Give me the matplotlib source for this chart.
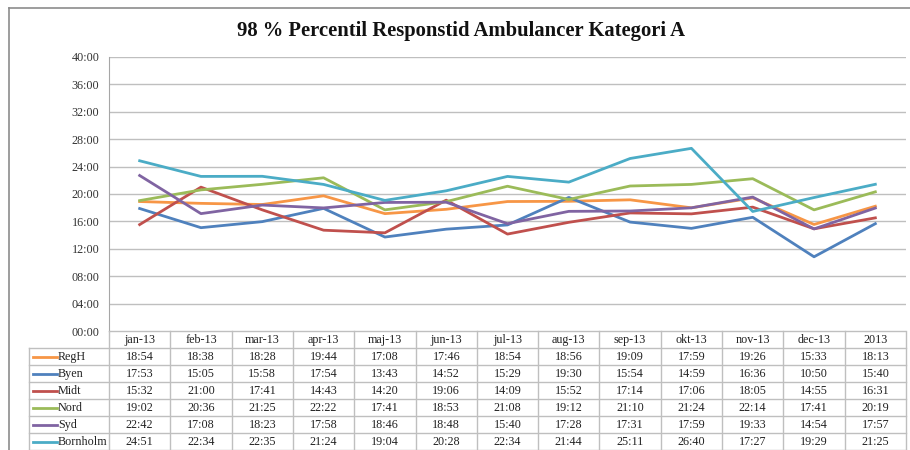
import matplotlib
matplotlib.use("Agg")
import matplotlib.pyplot as plt
from matplotlib.lines import Line2D
from matplotlib.ticker import FuncFormatter, MultipleLocator

plt.rcParams['font.family'] = ['Liberation Serif', 'DejaVu Serif']

months = ["jan-13", "feb-13", "mar-13", "apr-13", "maj-13", "jun-13", "jul-13",
          "aug-13", "sep-13", "okt-13", "nov-13", "dec-13", "2013"]

regh = ["18:54", "18:38", "18:28", "19:44", "17:08", "17:46", "18:54", "18:56", "19:09", "17:59", "19:26", "15:33", "18:13"]
byen = ["17:53", "15:05", "15:58", "17:54", "13:43", "14:52", "15:29", "19:30", "15:54", "14:59", "16:36", "10:50", "15:40"]
midt = ["15:32", "21:00", "17:41", "14:43", "14:20", "19:06", "14:09", "15:52", "17:14", "17:06", "18:05", "14:55", "16:31"]
nord = ["19:02", "20:36", "21:25", "22:22", "17:41", "18:53", "21:08", "19:12", "21:10", "21:24", "22:14", "17:41", "20:19"]
syd = ["22:42", "17:08", "18:23", "17:58", "18:46", "18:48", "15:40", "17:28", "17:31", "17:59", "19:33", "14:54", "17:57"]
bornholm = ["24:51", "22:34", "22:35", "21:24", "19:04", "20:28", "22:34", "21:44", "25:11", "26:40", "17:27", "19:29", "21:25"]

series_names = ["RegH", "Byen", "Midt", "Nord", "Syd", "Bornholm"]
series_values = [regh, byen, midt, nord, syd, bornholm]
colors = ["#F79646", "#4F81BD", "#C0504D", "#9BBB59", "#8064A2", "#4BACC6"]

title = "98 % Percentil Responstid Ambulancer Kategori A"


def to_minutes(s):
    m, sec = s.split(":")
    return int(m) + int(sec) / 60.0


W, H = 910, 450
fig = plt.figure(figsize=(W / 100, H / 100), dpi=100)
fig.patch.set_facecolor("white")

# outer frame lines
fig.add_artist(Line2D([9 / W, 1.0], [1 - 8 / H, 1 - 8 / H], color="#8C8C8C", lw=1.2))
fig.add_artist(Line2D([9 / W, 9 / W], [0, 1 - 8 / H], color="#8C8C8C", lw=1.2))

px_l, px_r, px_t, px_b = 109, 906, 57, 331
ax = fig.add_axes([px_l / W, 1 - px_b / H, (px_r - px_l) / W, (px_b - px_t) / H])
n = len(months)
x = list(range(n))
for name, vals, c in zip(series_names, series_values, colors):
    ax.plot(x, [to_minutes(v) for v in vals], color=c, lw=2.0, label=name, zorder=3)

ax.set_xlim(-0.5, n - 0.5)
ax.set_ylim(0, 40)
ax.yaxis.set_major_locator(MultipleLocator(4))
ax.yaxis.set_major_formatter(FuncFormatter(lambda v, p: "%02d:00" % int(round(v))))
ax.grid(axis="y", color="#BFBFBF", lw=1.0)
ax.set_axisbelow(True)
ax.set_xticks([])
ax.tick_params(axis="y", length=0, pad=7, labelsize=8.7, colors="#333333")
for s in ["top", "right", "bottom"]:
    ax.spines[s].set_visible(False)
ax.spines["left"].set_color("#A6A6A6")

fig.text(461 / W, 1 - 31 / H, title, ha="center", va="center",
         fontsize=14.9, fontweight="bold", color="#111111")

# data table
col_w = (px_r - px_l) / n
lab_l = 29
lab_w = (px_l - lab_l) / col_w
tab_t = 331
tax = fig.add_axes([lab_l / W, 0, (px_r - lab_l) / W, (H - tab_t) / H])
tax.set_xlim(-0.5 - lab_w, n - 0.5)
nrows = len(series_names) + 1
tax.set_ylim(nrows, 0)
tax.axis("off")
lc = "#BFBFBF"
for i in range(n + 1):
    tax.plot([i - 0.5, i - 0.5], [0, nrows], color=lc, lw=1.0, clip_on=False)
tax.plot([-0.5 - lab_w, -0.5 - lab_w], [1, nrows], color=lc, lw=1.0, clip_on=False)
for r in range(1, nrows + 1):
    tax.plot([-0.5 - lab_w, n - 0.5], [r, r], color=lc, lw=1.0, clip_on=False)
tax.plot([-0.5, n - 0.5], [0, 0], color=lc, lw=1.0)

for i, m in enumerate(months):
    tax.text(i, 0.55, m, ha="center", va="center", fontsize=8.7, color="#222222")
for r, (name, vals, c) in enumerate(zip(series_names, series_values, colors), start=1):
    tax.plot([-0.5 - lab_w + 0.06, -0.5 - lab_w + 0.46], [r + 0.5, r + 0.5], color=c, lw=2.0)
    tax.text(-0.5 - lab_w + 0.47, r + 0.52, name, ha="left", va="center", fontsize=8.7, color="#222222")
    for i, v in enumerate(vals):
        tax.text(i, r + 0.52, v, ha="center", va="center", fontsize=8.7, color="#222222")

fig.savefig("out.png", dpi=100)
